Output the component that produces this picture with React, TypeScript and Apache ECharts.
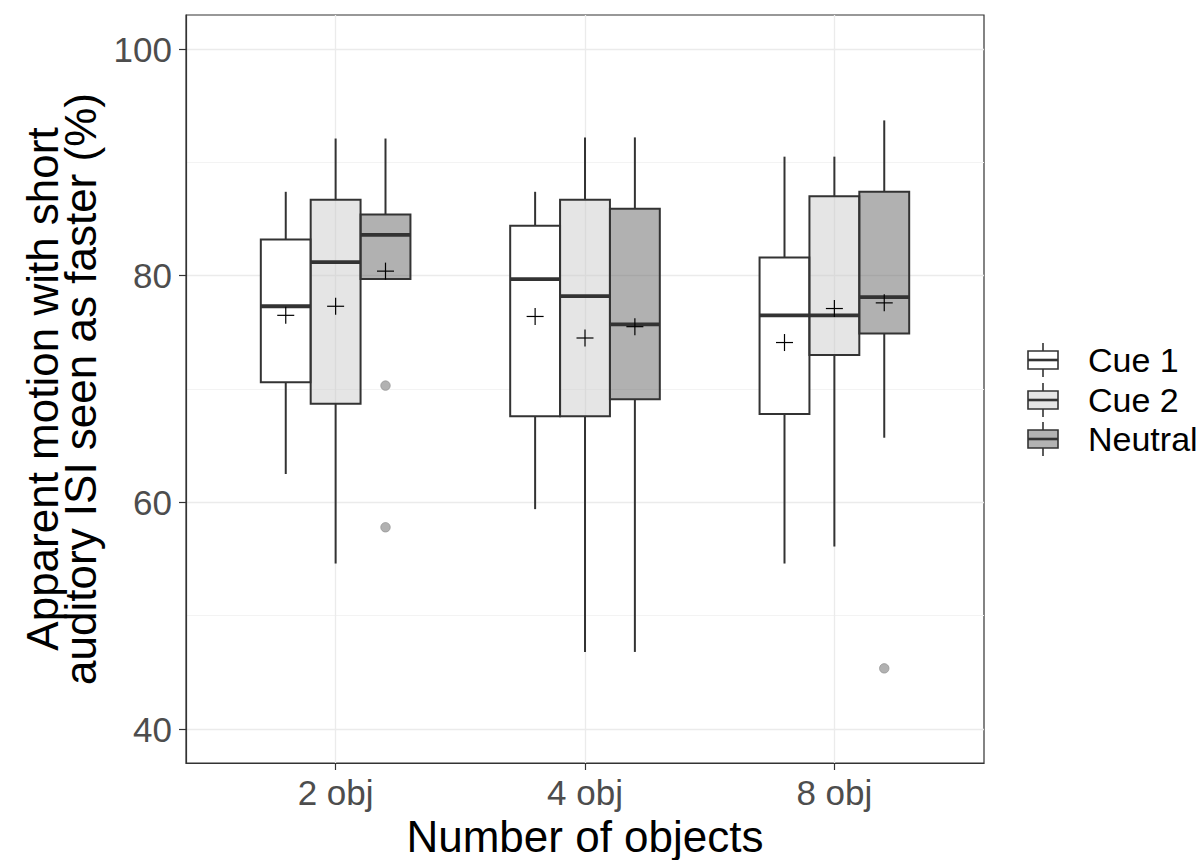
import React, { useEffect, useRef } from "react";
import * as echarts from "echarts";

const categories = ["2 obj", "4 obj", "8 obj"];
const groups = ["Cue 1", "Cue 2", "Neutral"];
const yTicks = [40, 60, 80, 100];
const yMinorTicks = [50, 70, 90];

// [whisker low, Q1, median, Q3, whisker high] per category
const cue1Box = [
  [62.5, 70.6, 77.3, 83.2, 87.4],
  [59.4, 67.6, 79.7, 84.4, 87.4],
  [54.6, 67.8, 76.5, 81.6, 90.5],
];
const cue2Box = [
  [54.6, 68.7, 81.2, 86.7, 92.1],
  [46.8, 67.6, 78.2, 86.7, 92.2],
  [56.1, 73.0, 76.5, 87.0, 90.5],
];
const neutralBox = [
  [79.7, 79.7, 83.6, 85.4, 92.1],
  [46.8, 69.1, 75.7, 85.9, 92.2],
  [65.7, 74.9, 78.1, 87.4, 93.7],
];
const cue1Mean = [76.5, 76.4, 74.1];
const cue2Mean = [77.3, 74.5, 77.1];
const neutralMean = [80.4, 75.5, 77.6];
// outliers: [category index, value]
const neutralOutliers = [
  [0, 70.3],
  [0, 57.8],
  [2, 45.35],
];
const cue1Outliers: number[][] = [];
const cue2Outliers: number[][] = [];

const boxes = [cue1Box, cue2Box, neutralBox];
const means = [cue1Mean, cue2Mean, neutralMean];
const outliers = [cue1Outliers, cue2Outliers, neutralOutliers];
const fills = ["#ffffff", "rgba(200,200,200,0.47)", "rgba(100,100,100,0.5)"];
const legendFills = ["#ffffff", "#e5e5e5", "#b3b3b3"];
const offsets = [-0.2, 0, 0.2];
const BOX_W = 0.2;
const FONT = "Liberation Sans, Arial, sans-serif";
const DARK = "#333333";

export default function App() {
  const ref = useRef<HTMLDivElement>(null);
  useEffect(() => {
    if (!ref.current) return;
    const chart = echarts.init(ref.current, undefined, { renderer: "svg" });

    const series: any[] = [];
    groups.forEach((g, gi) => {
      const data = boxes[gi].map((b, ci) => [ci + 1, ...b, means[gi][ci]]);
      series.push({
        type: "custom",
        name: g,
        data,
        z: 3,
        encode: { x: 0, y: [1, 2, 3, 4, 5, 6] },
        renderItem: (params: any, api: any) => {
          const xv = api.value(0) + offsets[gi];
          const lo = api.value(1);
          const q1 = api.value(2);
          const med = api.value(3);
          const q3 = api.value(4);
          const hi = api.value(5);
          const mean = api.value(6);
          const halfW = api.size([BOX_W, 0])[0] / 2;
          const [cx, yQ3] = api.coord([xv, q3]);
          const yQ1 = api.coord([xv, q1])[1];
          const yLo = api.coord([xv, lo])[1];
          const yHi = api.coord([xv, hi])[1];
          const yMed = api.coord([xv, med])[1];
          const yMean = api.coord([xv, mean])[1];
          const lw = 2;
          const cs = 8.5;
          return {
            type: "group",
            children: [
              { type: "line", shape: { x1: cx, y1: yHi, x2: cx, y2: yQ3 }, style: { stroke: DARK, lineWidth: lw } },
              { type: "line", shape: { x1: cx, y1: yQ1, x2: cx, y2: yLo }, style: { stroke: DARK, lineWidth: lw } },
              {
                type: "rect",
                shape: { x: cx - halfW, y: yQ3, width: 2 * halfW, height: yQ1 - yQ3 },
                style: { fill: fills[gi], stroke: DARK, lineWidth: lw },
              },
              {
                type: "line",
                shape: { x1: cx - halfW, y1: yMed, x2: cx + halfW, y2: yMed },
                style: { stroke: DARK, lineWidth: 3.8 },
              },
              { type: "line", shape: { x1: cx - cs, y1: yMean, x2: cx + cs, y2: yMean }, style: { stroke: "#000", lineWidth: 1.2 } },
              { type: "line", shape: { x1: cx, y1: yMean - cs, x2: cx, y2: yMean + cs }, style: { stroke: "#000", lineWidth: 1.2 } },
            ],
          };
        },
      });
      if (outliers[gi].length) {
        series.push({
          type: "scatter",
          name: g + " outliers",
          z: 4,
          symbol: "circle",
          symbolSize: 9.5,
          itemStyle: { color: "#9e9e9e", borderColor: "#8a8a8a", borderWidth: 0.8 },
          data: outliers[gi].map(([ci, v]) => [ci + 1 + offsets[gi], v]),
        });
      }
    });

    const legendY = [360, 400, 439];
    const legendGraphics: any[] = [];
    groups.forEach((g, gi) => {
      const cy = legendY[gi];
      legendGraphics.push(
        { type: "line", shape: { x1: 1043, y1: cy - 17, x2: 1043, y2: cy + 17 }, style: { stroke: DARK, lineWidth: 1.6 } },
        { type: "rect", shape: { x: 1028, y: cy - 9, width: 30, height: 18 }, style: { fill: legendFills[gi], stroke: DARK, lineWidth: 1.6 } },
        { type: "line", shape: { x1: 1028, y1: cy, x2: 1058, y2: cy }, style: { stroke: DARK, lineWidth: 2.6 } },
        {
          type: "text",
          x: 1088,
          y: cy,
          style: { text: g, fill: "#000", font: `34px ${FONT}`, textVerticalAlign: "middle", textAlign: "left" },
        }
      );
    });

    chart.setOption({
      animation: false,
      backgroundColor: "#ffffff",
      grid: {
        left: 186,
        right: 217,
        top: 15,
        bottom: 97,
        show: true,
        borderColor: DARK,
        borderWidth: 1.2,
        backgroundColor: "transparent",
        outerBoundsMode: "none",
      },
      xAxis: {
        type: "value",
        min: 0.4,
        max: 3.6,
        axisLine: { show: true, lineStyle: { color: DARK, width: 1.2 } },
        axisTick: { show: true, length: 7, customValues: [1, 2, 3], lineStyle: { color: DARK, width: 1.2 } },
        axisLabel: {
          customValues: [1, 2, 3],
          formatter: (v: number) => categories[Math.round(v) - 1] ?? "",
          fontSize: 35,
          color: "#4d4d4d",
          fontFamily: FONT,
          margin: 12,
        },
        splitLine: { show: true, lineStyle: { color: "#ebebeb", width: 1.3 } },
        name: "Number of objects",
        nameLocation: "middle",
        nameGap: 50,
        nameTextStyle: { fontSize: 44, color: "#000", fontFamily: FONT },
      },
      yAxis: [
        {
          type: "value",
          min: 37,
          max: 103,
          axisLine: { show: true, lineStyle: { color: DARK, width: 1.2 } },
          axisTick: { show: true, length: 7, customValues: yTicks, lineStyle: { color: DARK, width: 1.2 } },
          axisLabel: { customValues: yTicks, fontSize: 35, color: "#4d4d4d", fontFamily: FONT, margin: 14 },
          splitLine: { show: true, lineStyle: { color: "#ebebeb", width: 1.3 } },
          name: "Apparent motion with short\nauditory ISI seen as faster (%)",
          nameLocation: "middle",
          nameRotate: 90,
          nameGap: 82,
          nameTextStyle: { fontSize: 44, color: "#000", fontFamily: FONT, lineHeight: 38 },
        },
        {
          type: "value",
          min: 37,
          max: 103,
          position: "left",
          axisLine: { show: false },
          axisTick: { show: false, customValues: yMinorTicks },
          axisLabel: { show: false, customValues: yMinorTicks },
          splitLine: { show: true, lineStyle: { color: "#f3f3f3", width: 1 } },
        },
      ],
      graphic: legendGraphics,
      series,
    });
    return () => chart.dispose();
  }, []);
  return <div ref={ref} style={{ position: "fixed", left: 0, top: 0, width: 1201, height: 860 }} />;
}
